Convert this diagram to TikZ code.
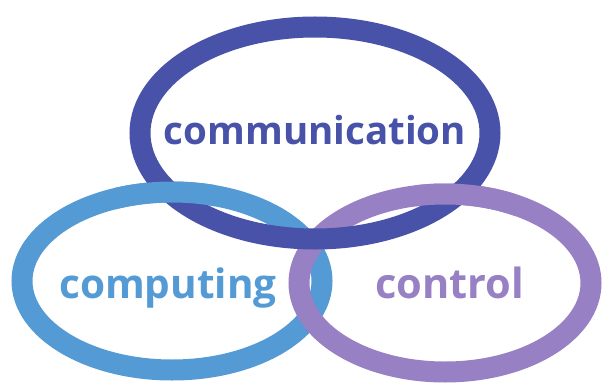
\documentclass[tikz,border=0pt]{standalone}
\usepackage{fontspec}
\setmainfont{Open Sans}
\definecolor{ringdark}{RGB}{72,82,168}
\definecolor{ringblue}{RGB}{84,154,212}
\definecolor{ringpurple}{RGB}{152,128,196}
\begin{document}
\begin{tikzpicture}[x=1pt,y=-1pt,
  ring/.style={line width=21pt},
  label/.style={anchor=base, inner sep=0pt}]
\useasboundingbox (0,0) rectangle (602,385);
\fill[white] (0,0) rectangle (602,385);
% centres
\coordinate (cTop) at (315,133);
\coordinate (cLeft) at (172,281);
\coordinate (cRight) at (445,283);
% rings, back to front
\draw[ring, draw=ringblue] (cLeft) ellipse [x radius=150, y radius=89];
\draw[ring, draw=ringpurple] (cRight) ellipse [x radius=146, y radius=89];
\draw[ring, draw=ringdark] (cTop) ellipse [x radius=175, y radius=106];
% blue passes over the dark ring at the left crossing
\begin{scope}
  \clip (115,165) rectangle (215,220);
  \draw[ring, draw=ringblue] (cLeft) ellipse [x radius=150, y radius=89];
\end{scope}
% purple passes over the dark ring at the right crossing
\begin{scope}
  \clip (415,165) rectangle (515,220);
  \draw[ring, draw=ringpurple] (cRight) ellipse [x radius=146, y radius=89];
\end{scope}
% labels
\node[label, text=ringdark, font=\fontsize{38.5}{42}\selectfont\bfseries] (communication) at (315,145) {communication};
\node[label, text=ringblue, font=\fontsize{40.5}{44}\selectfont\bfseries] (computing) at (168,298) {computing};
\node[label, text=ringpurple, font=\fontsize{41.5}{45}\selectfont\bfseries] (control) at (450,298) {control};
\end{tikzpicture}
\end{document}
